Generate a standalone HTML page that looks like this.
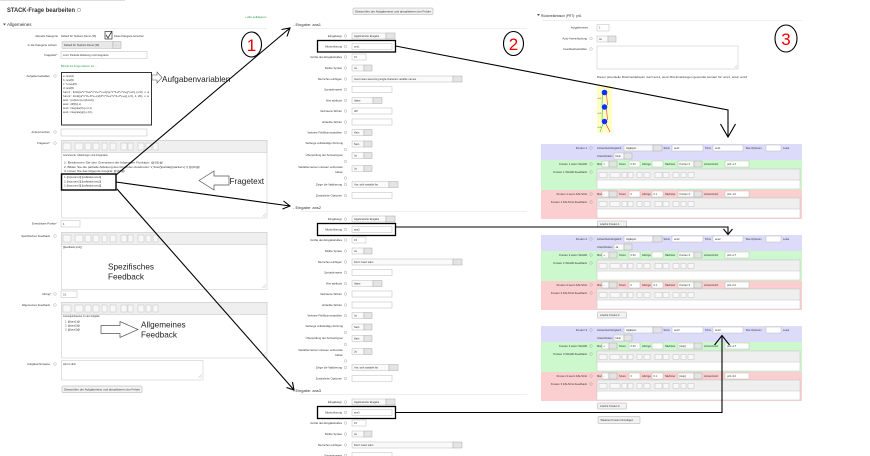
<!DOCTYPE html>
<html><head><meta charset="utf-8"><style>
html,body{margin:0;padding:0;background:#fff;}
svg{display:block;}
text{font-family:"Liberation Sans",sans-serif;}
.l{font-size:2.8px;fill:#333;text-anchor:end;}
.v{font-size:2.6px;fill:#333;}
.i{fill:#fff;stroke:#bbb;stroke-width:0.5;}
.s{fill:#fafafa;stroke:#bbb;stroke-width:0.5;}
.sb{fill:#e4e4e4;stroke:#aaa;stroke-width:0.5;}
.q{fill:none;stroke:#999;stroke-width:0.4;}
.big{font-size:8.2px;fill:#222;}
.num{font-size:17px;fill:#e00;text-anchor:middle;}
.ar{fill:none;stroke:#000;stroke-width:1.1;}
.ed{fill:#fff;stroke:#ccc;stroke-width:0.6;}
.tb{fill:#efefef;stroke:#ccc;stroke-width:0.6;}
.bt{fill:#f2f2f2;stroke:#aaa;stroke-width:0.5;}
.tbb rect{fill:#f8f8f8;stroke:#b5b5b5;stroke-width:0.4;}
</style></head><body>
<svg width="870" height="456" viewBox="0 0 870 456" xmlns="http://www.w3.org/2000/svg">
<rect width="870" height="456" fill="#fff"/>

<!-- ================= LEFT COLUMN ================= -->
<line x1="0" y1="0.5" x2="125" y2="0.5" stroke="#ddd" stroke-width="1"/>
<text x="7" y="12" font-size="6.5" font-weight="bold" fill="#333" textLength="68" lengthAdjust="spacingAndGlyphs">STACK-Frage bearbeiten</text>
<circle cx="79" cy="10" r="1.6" fill="none" stroke="#999" stroke-width="0.6"/>
<text x="245" y="18" font-size="2.8" fill="#2a9d4a">» Alle aufklappen</text>
<polygon points="3,23.5 6,23.5 4.5,25.5" fill="#555"/>
<text x="7" y="26" font-size="4.5" fill="#333">Allgemeines</text>
<line x1="10" y1="28.5" x2="267" y2="28.5" stroke="#ddd" stroke-width="0.6"/>

<text class="l" x="58" y="37">Aktuelle Kategorie</text>
<text class="v" x="61" y="37" font-size="2.7">Default für Testkurs Demo (36)</text>
<rect x="105" y="31.5" width="7" height="7.5" fill="#fff" stroke="#333" stroke-width="0.7"/>
<path d="M106 35 L108 38 L112 31" fill="none" stroke="#333" stroke-width="0.8"/>
<text class="v" x="114" y="37">Diese Kategorie benutzen</text>

<text class="l" x="57" y="46">In die Kategorie sichern</text>
<rect x="62" y="41.5" width="51" height="7" fill="#e8e8e8" stroke="#bbb" stroke-width="0.5"/>
<rect class="sb" x="113" y="41.5" width="8" height="7"/>
<text class="v" x="64" y="46">Default für Testkurs Demo (36)</text>
<text class="v" x="115" y="46">...</text>

<text class="l" x="56" y="56">Fragetitel</text><text x="56.3" y="56" font-size="2.8" fill="#d00">*</text>
<rect class="i" x="61" y="51.5" width="86" height="7"/>
<text class="v" x="63" y="56.2">Limit, Partielle Ableitung und Integration</text>

<text x="61" y="67" font-size="2.6" fill="#2a9d4a">Blende die Frage-Namen ein ...</text>

<text class="l" x="50" y="77">Aufgabenvariablen</text><circle class="q" cx="55" cy="76" r="1.3"/>
<rect x="61.5" y="72.5" width="90" height="52.5" fill="#fff" stroke="#333" stroke-width="1"/>
<g font-size="2.5" fill="#333">
<text x="63" y="77">a: rand(4)</text>
<text x="63" y="81">b: rand(5)</text>
<text x="63" y="85">c: 7+rand(5)</text>
<text x="63" y="89">d: rand(5)</text>
<text x="63" y="93" textLength="86" lengthAdjust="spacingAndGlyphs">func1 : limit((a*x^3+b*x^2+c*x+d)/(e*x^3+f*x^2+g*x+h),x,inf), x, a</text>
<text x="63" y="97" textLength="86" lengthAdjust="spacingAndGlyphs">func2 : limit((a*x^2+b*x+c)/(d*x^3+e*x^2+f*x+g),x,0), 1, 2b), x, a</text>
<text x="63" y="101">ans1 : [ev(func1),ev(func2)]</text>
<text x="63" y="105">ans2 : diff(f(x),x)</text>
<text x="63" y="109">ans3 : integrate(f(x),x,0,1)</text>
<text x="63" y="113">ans4 : integrate(g(x),x,0,1)</text>
</g>
<polygon points="152,75 157,75 157,72 162,77.5 157,83 157,80 152,80" fill="#fff" stroke="#555" stroke-width="0.6"/>
<text class="big" x="162" y="82" font-size="8">Aufgabenvariablen</text>

<text class="l" x="50" y="133">Antwortnotizen</text><circle class="q" cx="55" cy="132" r="1.3"/>
<rect class="i" x="61" y="129" width="86" height="7"/>

<text class="l" x="49" y="144">Fragetext</text><text x="49.3" y="144" font-size="2.8" fill="#d00">*</text><circle class="q" cx="55" cy="143" r="1.3"/>
<rect class="ed" x="61.5" y="140.5" width="205.5" height="77.5"/>
<rect class="tb" x="61.5" y="140.5" width="205.5" height="12"/>
<g class="tbb">
<rect x="63" y="143" width="8" height="7"/><rect x="75" y="143" width="8" height="7"/><rect x="85" y="143" width="6" height="7"/><rect x="93" y="143" width="6" height="7"/><rect x="102" y="143" width="5" height="7"/><rect x="110" y="143" width="6" height="7"/><rect x="121" y="143" width="6" height="7"/><rect x="128" y="143" width="5" height="7"/><rect x="138" y="143" width="6" height="7"/><rect x="146" y="143" width="5" height="7"/><rect x="153" y="143" width="5" height="7"/>
</g>
<g font-size="2.5" fill="#333">
<text x="63" y="156">Grenzwerte, Ableitungen und Integration</text>
<text x="64" y="163.5" textLength="99" lengthAdjust="spacingAndGlyphs">1. Bestimmen Sie den Grenzwert der folgenden Funktion: @{f1}@</text>
<text x="64" y="167.8" textLength="136" lengthAdjust="spacingAndGlyphs">2. Bilden Sie die partielle Ableitung des folgenden Ausdrucks: \( \frac{\partial}{\partial x} \) @{f2}@</text>
<text x="64" y="172" textLength="61" lengthAdjust="spacingAndGlyphs">3. Lösen Sie das folgende Integral: @{f3}@</text>
<text x="64" y="178">1. [[input:ans1]] [[validation:ans1]]</text>
<text x="64" y="182.3">2. [[input:ans2]] [[validation:ans2]]</text>
<text x="64" y="186.6">3. [[input:ans3]] [[validation:ans3]]</text>
</g>
<rect x="61.5" y="174" width="54.5" height="16" fill="none" stroke="#000" stroke-width="1.4"/>
<path d="M262 217 L266 213 M264 217 L266 215" stroke="#aaa" stroke-width="0.4"/>
<polygon points="199,180.5 214,171 214,176 229,176 229,185 214,185 214,190" fill="#fff" stroke="#555" stroke-width="0.7"/>
<text class="big" x="229.5" y="184" font-size="8">Fragetext</text>

<text class="l" x="56" y="224.5">Erreichbare Punkte</text><text x="56.3" y="224.5" font-size="2.8" fill="#d00">*</text>
<rect class="i" x="61" y="220.5" width="19" height="6.5"/>
<text class="v" x="63" y="224.8">1</text>

<text class="l" x="50" y="237">Spezifisches Feedback</text><circle class="q" cx="55" cy="236" r="1.3"/>
<rect class="ed" x="61.5" y="232.5" width="205.5" height="57"/>
<rect class="tb" x="61.5" y="232.5" width="205.5" height="12"/>
<g class="tbb">
<rect x="63" y="235" width="8" height="7"/><rect x="75" y="235" width="8" height="7"/><rect x="85" y="235" width="6" height="7"/><rect x="93" y="235" width="6" height="7"/><rect x="102" y="235" width="5" height="7"/><rect x="110" y="235" width="6" height="7"/><rect x="121" y="235" width="6" height="7"/><rect x="128" y="235" width="5" height="7"/><rect x="138" y="235" width="6" height="7"/><rect x="146" y="235" width="5" height="7"/><rect x="153" y="235" width="5" height="7"/>
</g>
<text class="v" x="63" y="248">[[feedback:prt1]]</text>
<path d="M262 288 L266 284 M264 288 L266 286" stroke="#aaa" stroke-width="0.4"/>
<text class="big" x="108" y="269.5">Spezifisches</text>
<text class="big" x="108" y="279.5">Feedback</text>

<text class="l" x="50" y="295">Abzug</text><text x="50.3" y="295" font-size="2.8" fill="#d00">*</text><circle class="q" cx="55" cy="294" r="1.3"/>
<rect class="i" x="61" y="291" width="16" height="6.5"/>
<text class="v" x="63" y="295.3">0.1</text>

<text class="l" x="50" y="306">Allgemeines Feedback</text><circle class="q" cx="55" cy="305" r="1.3"/>
<rect class="ed" x="61.5" y="302.5" width="205.5" height="55.5"/>
<rect class="tb" x="61.5" y="302.5" width="205.5" height="12"/>
<g class="tbb">
<rect x="63" y="305" width="8" height="7"/><rect x="75" y="305" width="8" height="7"/><rect x="85" y="305" width="6" height="7"/><rect x="93" y="305" width="6" height="7"/><rect x="102" y="305" width="5" height="7"/><rect x="110" y="305" width="6" height="7"/><rect x="121" y="305" width="6" height="7"/><rect x="128" y="305" width="5" height="7"/><rect x="138" y="305" width="6" height="7"/><rect x="146" y="305" width="5" height="7"/><rect x="153" y="305" width="5" height="7"/>
</g>
<g font-size="2.5" fill="#333">
<text x="63" y="317">Lösungshinweise zu der Aufgabe</text>
<text x="65" y="322.5">1. @{ans1}@</text>
<text x="65" y="326.5">2. @{ans2}@</text>
<text x="65" y="330.5">3. @{ans3}@</text>
</g>
<path d="M262 356 L266 352 M264 356 L266 354" stroke="#aaa" stroke-width="0.4"/>
<polygon points="101,325.5 120,325.5 120,321.5 138,329.5 120,337.5 120,333.5 101,333.5" fill="#fff" stroke="#555" stroke-width="0.7"/>
<text class="big" x="141" y="327.5">Allgemeines</text>
<text class="big" x="141" y="337.5">Feedback</text>

<text class="l" x="50" y="365">Aufgabenhinweise</text><circle class="q" cx="55" cy="364" r="1.3"/>
<rect class="ed" x="61.5" y="360.5" width="141.5" height="19.5"/>
<text class="v" x="63" y="365">Hint to dich</text>
<path d="M198 378 L202 374 M200 378 L202 376" stroke="#aaa" stroke-width="0.4"/>
<rect class="bt" x="62" y="386" width="80" height="6.5" rx="0.8"/>
<text x="64" y="390.5" font-size="2.5" fill="#333" textLength="76" lengthAdjust="spacingAndGlyphs">Überprüfen der Aufgabentext und aktualisieren der Felder</text>

<!-- ================= MIDDLE COLUMN ================= -->
<rect class="bt" x="353" y="8" width="80" height="6.5" rx="0.8"/>
<text x="355" y="12.5" font-size="2.5" fill="#333" textLength="76" lengthAdjust="spacingAndGlyphs">Überprüfen der Aufgabentext und aktualisieren der Felder</text>

<!-- ans1 -->
<text x="293" y="26" font-size="4" fill="#333">- Eingabe: ans1</text>
<line x1="300" y1="28.5" x2="527" y2="28.5" stroke="#ddd" stroke-width="0.6"/>
<text class="l" x="342" y="37">Eingabetyp</text><circle class="q" cx="345.5" cy="36" r="1.3"/>
<rect class="s" x="352" y="33" width="34" height="6"/><rect class="sb" x="386" y="33" width="9" height="6"/><text class="v" x="354" y="37">Algebraische Eingabe</text>
<text class="l" x="342" y="47.5">Musterlösung</text><circle class="q" cx="345.5" cy="46.5" r="1.3"/>
<rect class="i" x="352" y="43.5" width="40" height="6"/><text class="v" x="354" y="47.5">ans1</text>
<text class="l" x="342" y="58">Größe des Eingabefeldes</text><circle class="q" cx="345.5" cy="57" r="1.3"/>
<rect class="i" x="352" y="54" width="14" height="6"/><text class="v" x="354" y="58">15</text>
<text class="l" x="342" y="69">Strikte Syntax</text><circle class="q" cx="345.5" cy="68" r="1.3"/>
<rect class="s" x="352" y="65" width="12" height="6"/><rect class="sb" x="364" y="65" width="8" height="6"/><text class="v" x="354" y="69">Ja</text>
<text class="l" x="342" y="80">Sternchen einfügen</text><circle class="q" cx="345.5" cy="79" r="1.3"/>
<rect class="s" x="352" y="76" width="101" height="6"/><rect class="sb" x="453" y="76" width="9" height="6"/><text class="v" x="354" y="80">Insert stars assuming single-character variable names</text>
<text class="l" x="342" y="90.5">Syntaxhinweis</text><circle class="q" cx="345.5" cy="89.5" r="1.3"/>
<rect class="i" x="352" y="86.5" width="40" height="6"/>
<text class="l" x="342" y="101.5">Hint attribute</text><circle class="q" cx="345.5" cy="100.5" r="1.3"/>
<rect class="s" x="352" y="97.5" width="21" height="6"/><rect class="sb" x="373" y="97.5" width="9" height="6"/><text class="v" x="354" y="101.5">Value</text>
<text class="l" x="342" y="112">Verbotene Wörter</text><circle class="q" cx="345.5" cy="111" r="1.3"/>
<rect class="i" x="352" y="108" width="40" height="6"/><text class="v" x="354" y="112">diff</text>
<text class="l" x="342" y="123">Erlaubte Wörter</text><circle class="q" cx="345.5" cy="122" r="1.3"/>
<rect class="i" x="352" y="119" width="40" height="6"/>
<text class="l" x="342" y="133.5">Verbiete Fließkommazahlen</text><circle class="q" cx="345.5" cy="132.5" r="1.3"/>
<rect class="s" x="352" y="129.5" width="12" height="6"/><rect class="sb" x="364" y="129.5" width="8" height="6"/><text class="v" x="354" y="133.5">Nein</text>
<text class="l" x="343" y="144">Verlange vollständige Kürzung</text><circle class="q" cx="345.5" cy="149.5" r="1.3"/>
<rect class="s" x="352" y="141" width="12" height="6"/><rect class="sb" x="364" y="141" width="8" height="6"/><text class="v" x="354" y="145">Nein</text>
<text class="l" x="343" y="156">Überprüfung der Antworttypen</text><circle class="q" cx="345.5" cy="161.5" r="1.3"/>
<rect class="s" x="352" y="152.5" width="12" height="6"/><rect class="sb" x="364" y="152.5" width="8" height="6"/><text class="v" x="354" y="156.5">Ja</text>
<text class="l" x="343" y="168">Variablennamen müssen verbunden</text><text class="l" x="343" y="173">haben</text><circle class="q" cx="345.5" cy="178" r="1.3"/>
<rect class="s" x="352" y="165.5" width="12" height="6"/><rect class="sb" x="364" y="165.5" width="8" height="6"/><text class="v" x="354" y="169.5">Ja</text>
<text class="l" x="342" y="185.5">Zeige die Validierung</text><circle class="q" cx="345.5" cy="184.5" r="1.3"/>
<rect class="s" x="352" y="181.5" width="37" height="6"/><rect class="sb" x="389" y="181.5" width="9" height="6"/><text class="v" x="354" y="185.5">Yes, with variable list</text>
<text class="l" x="342" y="196.5">Zusätzliche Optionen</text><circle class="q" cx="345.5" cy="195.5" r="1.3"/>
<rect class="i" x="352" y="192.5" width="40" height="6"/>
<rect x="317.5" y="40.5" width="78" height="11.5" fill="none" stroke="#000" stroke-width="1.3"/>

<!-- ans2 -->
<text x="293" y="209" font-size="4" fill="#333">- Eingabe: ans2</text>
<line x1="300" y1="211.5" x2="527" y2="211.5" stroke="#ddd" stroke-width="0.6"/>
<text class="l" x="342" y="220">Eingabetyp</text><circle class="q" cx="345.5" cy="219" r="1.3"/>
<rect class="s" x="352" y="216" width="34" height="6"/><rect class="sb" x="386" y="216" width="9" height="6"/><text class="v" x="354" y="220">Algebraische Eingabe</text>
<text class="l" x="342" y="230.5">Musterlösung</text><circle class="q" cx="345.5" cy="229.5" r="1.3"/>
<rect class="i" x="352" y="226.5" width="40" height="6"/><text class="v" x="354" y="230.5">ans2</text>
<text class="l" x="342" y="241">Größe des Eingabefeldes</text><circle class="q" cx="345.5" cy="240" r="1.3"/>
<rect class="i" x="352" y="237" width="14" height="6"/><text class="v" x="354" y="241">15</text>
<text class="l" x="342" y="252">Strikte Syntax</text><circle class="q" cx="345.5" cy="251" r="1.3"/>
<rect class="s" x="352" y="248" width="12" height="6"/><rect class="sb" x="364" y="248" width="8" height="6"/><text class="v" x="354" y="252">Ja</text>
<text class="l" x="342" y="263">Sternchen einfügen</text><circle class="q" cx="345.5" cy="262" r="1.3"/>
<rect class="s" x="352" y="259" width="101" height="6"/><rect class="sb" x="453" y="259" width="9" height="6"/><text class="v" x="354" y="263">Don't insert stars</text>
<text class="l" x="342" y="273.5">Syntaxhinweis</text><circle class="q" cx="345.5" cy="272.5" r="1.3"/>
<rect class="i" x="352" y="269.5" width="40" height="6"/>
<text class="l" x="342" y="284.5">Hint attribute</text><circle class="q" cx="345.5" cy="283.5" r="1.3"/>
<rect class="s" x="352" y="280.5" width="21" height="6"/><rect class="sb" x="373" y="280.5" width="9" height="6"/><text class="v" x="354" y="284.5">Value</text>
<text class="l" x="342" y="295">Verbotene Wörter</text><circle class="q" cx="345.5" cy="294" r="1.3"/>
<rect class="i" x="352" y="291" width="40" height="6"/>
<text class="l" x="342" y="306">Erlaubte Wörter</text><circle class="q" cx="345.5" cy="305" r="1.3"/>
<rect class="i" x="352" y="302" width="40" height="6"/>
<text class="l" x="342" y="316.5">Verbiete Fließkommazahlen</text><circle class="q" cx="345.5" cy="315.5" r="1.3"/>
<rect class="s" x="352" y="312.5" width="12" height="6"/><rect class="sb" x="364" y="312.5" width="8" height="6"/><text class="v" x="354" y="316.5">Ja</text>
<text class="l" x="343" y="327">Verlange vollständige Kürzung</text><circle class="q" cx="345.5" cy="332.5" r="1.3"/>
<rect class="s" x="352" y="324" width="12" height="6"/><rect class="sb" x="364" y="324" width="8" height="6"/><text class="v" x="354" y="328">Nein</text>
<text class="l" x="343" y="339">Überprüfung der Antworttypen</text><circle class="q" cx="345.5" cy="344.5" r="1.3"/>
<rect class="s" x="352" y="335.5" width="12" height="6"/><rect class="sb" x="364" y="335.5" width="8" height="6"/><text class="v" x="354" y="339.5">Nein</text>
<text class="l" x="343" y="351">Variablennamen müssen verbunden</text><text class="l" x="343" y="356">haben</text><circle class="q" cx="345.5" cy="361" r="1.3"/>
<rect class="s" x="352" y="348.5" width="12" height="6"/><rect class="sb" x="364" y="348.5" width="8" height="6"/><text class="v" x="354" y="352.5">Ja</text>
<text class="l" x="342" y="368.5">Zeige die Validierung</text><circle class="q" cx="345.5" cy="367.5" r="1.3"/>
<rect class="s" x="352" y="364.5" width="37" height="6"/><rect class="sb" x="389" y="364.5" width="9" height="6"/><text class="v" x="354" y="368.5">Yes, with variable list</text>
<text class="l" x="342" y="379.5">Zusätzliche Optionen</text><circle class="q" cx="345.5" cy="378.5" r="1.3"/>
<rect class="i" x="352" y="375.5" width="40" height="6"/>
<rect x="317.5" y="223.5" width="78" height="12" fill="none" stroke="#000" stroke-width="1.3"/>

<!-- ans3 -->
<text x="293" y="392" font-size="4" fill="#333">- Eingabe: ans3</text>
<line x1="300" y1="394.5" x2="527" y2="394.5" stroke="#ddd" stroke-width="0.6"/>
<text class="l" x="342" y="403">Eingabetyp</text><circle class="q" cx="345.5" cy="402" r="1.3"/>
<rect class="s" x="352" y="399" width="34" height="6"/><rect class="sb" x="386" y="399" width="9" height="6"/><text class="v" x="354" y="403">Algebraische Eingabe</text>
<text class="l" x="342" y="413.5">Musterlösung</text><circle class="q" cx="345.5" cy="412.5" r="1.3"/>
<rect class="i" x="352" y="409.5" width="40" height="6"/><text class="v" x="354" y="413.5">ans3</text>
<text class="l" x="342" y="424">Größe des Eingabefeldes</text><circle class="q" cx="345.5" cy="423" r="1.3"/>
<rect class="i" x="352" y="420" width="14" height="6"/><text class="v" x="354" y="424">15</text>
<text class="l" x="342" y="435">Strikte Syntax</text><circle class="q" cx="345.5" cy="434" r="1.3"/>
<rect class="s" x="352" y="431" width="12" height="6"/><rect class="sb" x="364" y="431" width="8" height="6"/><text class="v" x="354" y="435">Ja</text>
<text class="l" x="342" y="446">Sternchen einfügen</text><circle class="q" cx="345.5" cy="445" r="1.3"/>
<rect class="s" x="352" y="442" width="101" height="6"/><rect class="sb" x="453" y="442" width="9" height="6"/><text class="v" x="354" y="446">Don't insert stars</text>
<text class="l" x="342" y="456.5">Syntaxhinweis</text><circle class="q" cx="345.5" cy="455.5" r="1.3"/>
<rect class="i" x="352" y="452.5" width="40" height="6"/>
<rect x="317.5" y="406.5" width="78" height="12" fill="none" stroke="#000" stroke-width="1.3"/>

<!-- ================= RIGHT COLUMN ================= -->
<polygon points="537,14 540,14 538.5,16" fill="#555"/>
<text x="541" y="17" font-size="3.2" fill="#333">Rückmeldebaum (PRT): prt1</text>
<line x1="542" y1="20.5" x2="802" y2="20.5" stroke="#ddd" stroke-width="0.6"/>
<text class="l" x="588" y="28.5">Aufgabenwert</text>
<rect class="i" x="597" y="24.5" width="12" height="6.5"/><text class="v" x="599" y="28.7" fill="#999">1</text>
<text class="l" x="587" y="39.5">Auto-Vereinfachung</text><circle class="q" cx="591" cy="38.5" r="1.3"/>
<rect class="s" x="597" y="36" width="11" height="6"/><rect class="sb" x="608" y="36" width="8" height="6"/><text class="v" x="599" y="40">Ja</text>
<text class="l" x="587" y="50">Feedbackvariablen</text><circle class="q" cx="591" cy="49" r="1.3"/>
<rect class="ed" x="597" y="46" width="141" height="23"/>
<path d="M734 68 L737 65 M736 68 L737 67" stroke="#aaa" stroke-width="0.4"/>
<text x="597" y="78" font-size="2.5" fill="#333" textLength="150" lengthAdjust="spacingAndGlyphs">Dieser potentielle Rückmeldebaum nutzt ans1, wenn Rückmeldungen gesendet werden für: ans1, ans2, ans3</text>

<rect x="597" y="85.5" width="15" height="47.5" fill="#ffffc4"/>
<g stroke-width="0.6">
<line x1="602.5" y1="94" x2="602" y2="105" stroke="#3c3"/>
<line x1="606.5" y1="94" x2="607.5" y2="105" stroke="#d33"/>
<line x1="602.5" y1="109" x2="602" y2="120" stroke="#3c3"/>
<line x1="606.5" y1="109" x2="607.5" y2="120" stroke="#d33"/>
<line x1="603" y1="124" x2="600" y2="132" stroke="#3c3"/>
<line x1="606" y1="124" x2="610" y2="132" stroke="#d33"/>
</g>
<circle cx="604.5" cy="92.5" r="2.8" fill="#1030ff"/>
<circle cx="604.5" cy="107" r="2.8" fill="#1030ff"/>
<circle cx="604.5" cy="121.5" r="2.8" fill="#1030ff"/>
<g font-size="1.5" fill="#333"><text x="597.5" y="99">=0.33</text><text x="597.5" y="114">=0.33</text><text x="597.5" y="128">=0.33</text></g>

<!-- Knoten 1 (T=144) -->
<rect x="541" y="144" width="261" height="16" fill="#dcdcfa"/>
<rect x="541" y="160" width="261" height="30" fill="#cdf7cd"/>
<rect x="541" y="190" width="261" height="29" fill="#fbcfcf"/>
<text class="l" x="587" y="149">Knoten 1</text><circle class="q" cx="591" cy="148" r="1.3"/>
<text class="v" x="597" y="149">Antworttest/Vergleich</text>
<rect class="s" x="624" y="145" width="29" height="6"/><rect class="sb" x="653" y="145" width="9" height="6"/><text class="v" x="626" y="149">AlgEquiv</text>
<text class="v" x="663.5" y="149">SAns</text><rect class="i" x="672" y="145" width="31" height="6"/><text class="v" x="674" y="149">ans1</text>
<text class="v" x="705" y="149">TAns</text><rect class="i" x="713" y="145" width="30" height="6"/><text class="v" x="715" y="149">ans1</text>
<text class="v" x="745.5" y="149">Test-Optionen</text><rect class="i" x="766" y="145" width="15" height="6"/>
<text class="v" x="783" y="149">Leise</text>
<text class="v" x="597" y="157">Unterdrücken</text>
<rect class="s" x="614" y="153" width="10" height="6"/><rect class="sb" x="624" y="153" width="8" height="6"/><text class="v" x="615.5" y="157">Nein</text>
<text class="l" x="587" y="165">Knoten 1 wenn WAHR</text><circle class="q" cx="591" cy="164" r="1.3"/>
<text class="v" x="597" y="165">Mod</text><rect class="s" x="602" y="161" width="7" height="6"/><rect class="sb" x="609" y="161" width="8" height="6"/><text class="v" x="603.5" y="165">=</text>
<text class="v" x="619" y="165">Score</text><rect class="i" x="629" y="161" width="11" height="6"/><text class="v" x="630.5" y="165">0.33</text>
<text class="v" x="642" y="165">Abzüge</text><rect class="i" x="652" y="161" width="11" height="6"/>
<text class="v" x="665" y="165">Nächster</text><rect class="s" x="678" y="161" width="16" height="6"/><rect class="sb" x="694" y="161" width="8" height="6"/><text class="v" x="679.5" y="165">Knoten 2</text>
<text class="v" x="704" y="165">Antwortnotiz</text><rect class="i" x="725" y="161" width="24" height="6"/><text class="v" x="727" y="165">prt1-1-T</text>
<text class="l" x="587" y="173">Knoten 1 WAHR-Feedback</text><circle class="q" cx="591" cy="172" r="1.3"/>
<rect class="ed" x="597" y="169" width="203" height="20"/><rect class="tb" x="597" y="169" width="203" height="11"/>
<g class="tbb"><rect x="599" y="172.5" width="8" height="5"/><rect x="610" y="172.5" width="10" height="5"/><rect x="622" y="172.5" width="5" height="5"/><rect x="628" y="172.5" width="5" height="5"/><rect x="637" y="172.5" width="5" height="5"/><rect x="644" y="172.5" width="6" height="5"/><rect x="655" y="172.5" width="7" height="5"/><rect x="663" y="172.5" width="6" height="5"/><rect x="673" y="172.5" width="6" height="5"/><rect x="681" y="172.5" width="5" height="5"/><rect x="688" y="172.5" width="6" height="5"/></g>
<text class="l" x="587" y="195">Knoten 1 wenn FALSCH</text><circle class="q" cx="591" cy="194" r="1.3"/>
<text class="v" x="597" y="195">Mod</text><rect class="s" x="602" y="191" width="7" height="6"/><rect class="sb" x="609" y="191" width="8" height="6"/><text class="v" x="603.5" y="195">-</text>
<text class="v" x="619" y="195">Score</text><rect class="i" x="629" y="191" width="11" height="6"/><text class="v" x="630.5" y="195">0</text>
<text class="v" x="642" y="195">Abzüge</text><rect class="i" x="652" y="191" width="11" height="6"/><text class="v" x="653.5" y="195">0.1</text>
<text class="v" x="665" y="195">Nächster</text><rect class="s" x="678" y="191" width="16" height="6"/><rect class="sb" x="694" y="191" width="8" height="6"/><text class="v" x="679.5" y="195">Knoten 2</text>
<text class="v" x="704" y="195">Antwortnotiz</text><rect class="i" x="725" y="191" width="24" height="6"/><text class="v" x="727" y="195">prt1-1-F</text>
<text class="l" x="587" y="203">Knoten 1 FALSCH-Feedback</text><circle class="q" cx="591" cy="202" r="1.3"/>
<rect class="ed" x="597" y="198" width="203" height="20"/><rect class="tb" x="597" y="198" width="203" height="11"/>
<g class="tbb"><rect x="599" y="201.5" width="8" height="5"/><rect x="610" y="201.5" width="10" height="5"/><rect x="622" y="201.5" width="5" height="5"/><rect x="628" y="201.5" width="5" height="5"/><rect x="637" y="201.5" width="5" height="5"/><rect x="644" y="201.5" width="6" height="5"/><rect x="655" y="201.5" width="7" height="5"/><rect x="663" y="201.5" width="6" height="5"/><rect x="673" y="201.5" width="6" height="5"/><rect x="681" y="201.5" width="5" height="5"/><rect x="688" y="201.5" width="6" height="5"/></g>
<rect class="bt" x="597.5" y="221" width="29" height="6" rx="0.6"/><text class="v" x="600" y="225">Lösche Knoten 1</text>

<!-- Knoten 2 (T=235) -->
<rect x="541" y="235" width="261" height="16" fill="#dcdcfa"/>
<rect x="541" y="251" width="261" height="30" fill="#cdf7cd"/>
<rect x="541" y="281" width="261" height="29" fill="#fbcfcf"/>
<text class="l" x="587" y="240">Knoten 2</text><circle class="q" cx="591" cy="239" r="1.3"/>
<text class="v" x="597" y="240">Antworttest/Vergleich</text>
<rect class="s" x="624" y="236" width="29" height="6"/><rect class="sb" x="653" y="236" width="9" height="6"/><text class="v" x="626" y="240">AlgEquiv</text>
<text class="v" x="663.5" y="240">SAns</text><rect class="i" x="672" y="236" width="31" height="6"/><text class="v" x="674" y="240">ans2</text>
<text class="v" x="705" y="240">TAns</text><rect class="i" x="713" y="236" width="30" height="6"/><text class="v" x="715" y="240">ans2</text>
<text class="v" x="745.5" y="240">Test-Optionen</text><rect class="i" x="766" y="236" width="15" height="6"/>
<text class="v" x="783" y="240">Leise</text>
<text class="v" x="597" y="248">Unterdrücken</text>
<rect class="s" x="614" y="244" width="10" height="6"/><rect class="sb" x="624" y="244" width="8" height="6"/><text class="v" x="615.5" y="248">Ja</text>
<text class="l" x="587" y="256">Knoten 2 wenn WAHR</text><circle class="q" cx="591" cy="255" r="1.3"/>
<text class="v" x="597" y="256">Mod</text><rect class="s" x="602" y="252" width="7" height="6"/><rect class="sb" x="609" y="252" width="8" height="6"/><text class="v" x="603.5" y="256">+</text>
<text class="v" x="619" y="256">Score</text><rect class="i" x="629" y="252" width="11" height="6"/><text class="v" x="630.5" y="256">0.33</text>
<text class="v" x="642" y="256">Abzüge</text><rect class="i" x="652" y="252" width="11" height="6"/>
<text class="v" x="665" y="256">Nächster</text><rect class="s" x="678" y="252" width="16" height="6"/><rect class="sb" x="694" y="252" width="8" height="6"/><text class="v" x="679.5" y="256">Knoten 3</text>
<text class="v" x="704" y="256">Antwortnotiz</text><rect class="i" x="725" y="252" width="24" height="6"/><text class="v" x="727" y="256">prt1-2-T</text>
<text class="l" x="587" y="264">Knoten 2 WAHR-Feedback</text><circle class="q" cx="591" cy="263" r="1.3"/>
<rect class="ed" x="597" y="260" width="203" height="20"/><rect class="tb" x="597" y="260" width="203" height="11"/>
<g class="tbb"><rect x="599" y="263.5" width="8" height="5"/><rect x="610" y="263.5" width="10" height="5"/><rect x="622" y="263.5" width="5" height="5"/><rect x="628" y="263.5" width="5" height="5"/><rect x="637" y="263.5" width="5" height="5"/><rect x="644" y="263.5" width="6" height="5"/><rect x="655" y="263.5" width="7" height="5"/><rect x="663" y="263.5" width="6" height="5"/><rect x="673" y="263.5" width="6" height="5"/><rect x="681" y="263.5" width="5" height="5"/><rect x="688" y="263.5" width="6" height="5"/></g>
<text class="l" x="587" y="286">Knoten 2 wenn FALSCH</text><circle class="q" cx="591" cy="285" r="1.3"/>
<text class="v" x="597" y="286">Mod</text><rect class="s" x="602" y="282" width="7" height="6"/><rect class="sb" x="609" y="282" width="8" height="6"/><text class="v" x="603.5" y="286">-</text>
<text class="v" x="619" y="286">Score</text><rect class="i" x="629" y="282" width="11" height="6"/><text class="v" x="630.5" y="286">0</text>
<text class="v" x="642" y="286">Abzüge</text><rect class="i" x="652" y="282" width="11" height="6"/><text class="v" x="653.5" y="286">0.1</text>
<text class="v" x="665" y="286">Nächster</text><rect class="s" x="678" y="282" width="16" height="6"/><rect class="sb" x="694" y="282" width="8" height="6"/><text class="v" x="679.5" y="286">Knoten 3</text>
<text class="v" x="704" y="286">Antwortnotiz</text><rect class="i" x="725" y="282" width="24" height="6"/><text class="v" x="727" y="286">prt1-2-F</text>
<text class="l" x="587" y="294">Knoten 2 FALSCH-Feedback</text><circle class="q" cx="591" cy="293" r="1.3"/>
<rect class="ed" x="597" y="289" width="203" height="20"/><rect class="tb" x="597" y="289" width="203" height="11"/>
<g class="tbb"><rect x="599" y="292.5" width="8" height="5"/><rect x="610" y="292.5" width="10" height="5"/><rect x="622" y="292.5" width="5" height="5"/><rect x="628" y="292.5" width="5" height="5"/><rect x="637" y="292.5" width="5" height="5"/><rect x="644" y="292.5" width="6" height="5"/><rect x="655" y="292.5" width="7" height="5"/><rect x="663" y="292.5" width="6" height="5"/><rect x="673" y="292.5" width="6" height="5"/><rect x="681" y="292.5" width="5" height="5"/><rect x="688" y="292.5" width="6" height="5"/></g>
<rect class="bt" x="597.5" y="312" width="29" height="6" rx="0.6"/><text class="v" x="600" y="316">Lösche Knoten 2</text>

<!-- Knoten 3 (T=326) -->
<rect x="541" y="326" width="261" height="16" fill="#dcdcfa"/>
<rect x="541" y="342" width="261" height="30" fill="#cdf7cd"/>
<rect x="541" y="372" width="261" height="29" fill="#fbcfcf"/>
<text class="l" x="587" y="331">Knoten 3</text><circle class="q" cx="591" cy="330" r="1.3"/>
<text class="v" x="597" y="331">Antworttest/Vergleich</text>
<rect class="s" x="624" y="327" width="29" height="6"/><rect class="sb" x="653" y="327" width="9" height="6"/><text class="v" x="626" y="331">AlgEquiv</text>
<text class="v" x="663.5" y="331">SAns</text><rect class="i" x="672" y="327" width="31" height="6"/><text class="v" x="674" y="331">ans3</text>
<text class="v" x="705" y="331">TAns</text><rect class="i" x="713" y="327" width="30" height="6"/><text class="v" x="715" y="331">ans3</text>
<text class="v" x="745.5" y="331">Test-Optionen</text><rect class="i" x="766" y="327" width="15" height="6"/>
<text class="v" x="783" y="331">Leise</text>
<text class="v" x="597" y="339">Unterdrücken</text>
<rect class="s" x="614" y="335" width="10" height="6"/><rect class="sb" x="624" y="335" width="8" height="6"/><text class="v" x="615.5" y="339">Nein</text>
<text class="l" x="587" y="347">Knoten 3 wenn WAHR</text><circle class="q" cx="591" cy="346" r="1.3"/>
<text class="v" x="597" y="347">Mod</text><rect class="s" x="602" y="343" width="7" height="6"/><rect class="sb" x="609" y="343" width="8" height="6"/><text class="v" x="603.5" y="347">+</text>
<text class="v" x="619" y="347">Score</text><rect class="i" x="629" y="343" width="11" height="6"/><text class="v" x="630.5" y="347">0.33</text>
<text class="v" x="642" y="347">Abzüge</text><rect class="i" x="652" y="343" width="11" height="6"/>
<text class="v" x="665" y="347">Nächster</text><rect class="s" x="678" y="343" width="16" height="6"/><rect class="sb" x="694" y="343" width="8" height="6"/><text class="v" x="679.5" y="347">[stop]</text>
<text class="v" x="704" y="347">Antwortnotiz</text><rect class="i" x="725" y="343" width="24" height="6"/><text class="v" x="727" y="347">prt1-3-T</text>
<text class="l" x="587" y="355">Knoten 3 WAHR-Feedback</text><circle class="q" cx="591" cy="354" r="1.3"/>
<rect class="ed" x="597" y="351" width="203" height="20"/><rect class="tb" x="597" y="351" width="203" height="11"/>
<g class="tbb"><rect x="599" y="354.5" width="8" height="5"/><rect x="610" y="354.5" width="10" height="5"/><rect x="622" y="354.5" width="5" height="5"/><rect x="628" y="354.5" width="5" height="5"/><rect x="637" y="354.5" width="5" height="5"/><rect x="644" y="354.5" width="6" height="5"/><rect x="655" y="354.5" width="7" height="5"/><rect x="663" y="354.5" width="6" height="5"/><rect x="673" y="354.5" width="6" height="5"/><rect x="681" y="354.5" width="5" height="5"/><rect x="688" y="354.5" width="6" height="5"/></g>
<text class="l" x="587" y="377">Knoten 3 wenn FALSCH</text><circle class="q" cx="591" cy="376" r="1.3"/>
<text class="v" x="597" y="377">Mod</text><rect class="s" x="602" y="373" width="7" height="6"/><rect class="sb" x="609" y="373" width="8" height="6"/><text class="v" x="603.5" y="377">-</text>
<text class="v" x="619" y="377">Score</text><rect class="i" x="629" y="373" width="11" height="6"/><text class="v" x="630.5" y="377">0</text>
<text class="v" x="642" y="377">Abzüge</text><rect class="i" x="652" y="373" width="11" height="6"/><text class="v" x="653.5" y="377">0.1</text>
<text class="v" x="665" y="377">Nächster</text><rect class="s" x="678" y="373" width="16" height="6"/><rect class="sb" x="694" y="373" width="8" height="6"/><text class="v" x="679.5" y="377">[stop]</text>
<text class="v" x="704" y="377">Antwortnotiz</text><rect class="i" x="725" y="373" width="24" height="6"/><text class="v" x="727" y="377">prt1-3-F</text>
<text class="l" x="587" y="385">Knoten 3 FALSCH-Feedback</text><circle class="q" cx="591" cy="384" r="1.3"/>
<rect class="ed" x="597" y="380" width="203" height="20"/><rect class="tb" x="597" y="380" width="203" height="11"/>
<g class="tbb"><rect x="599" y="383.5" width="8" height="5"/><rect x="610" y="383.5" width="10" height="5"/><rect x="622" y="383.5" width="5" height="5"/><rect x="628" y="383.5" width="5" height="5"/><rect x="637" y="383.5" width="5" height="5"/><rect x="644" y="383.5" width="6" height="5"/><rect x="655" y="383.5" width="7" height="5"/><rect x="663" y="383.5" width="6" height="5"/><rect x="673" y="383.5" width="6" height="5"/><rect x="681" y="383.5" width="5" height="5"/><rect x="688" y="383.5" width="6" height="5"/></g>
<rect class="bt" x="597.5" y="403" width="29" height="6" rx="0.6"/><text class="v" x="600" y="407">Lösche Knoten 3</text>
<rect class="bt" x="598" y="416.5" width="42" height="7" rx="0.6"/><text class="v" x="600.5" y="421">Weiteren Knoten hinzufügen</text>

<!-- ================= ANNOTATIONS ================= -->
<ellipse cx="251.5" cy="44.5" rx="10" ry="12.5" fill="none" stroke="#000" stroke-width="1.1"/>
<text class="num" x="251.5" y="51">1</text>
<ellipse cx="513.5" cy="43.5" rx="10" ry="12" fill="none" stroke="#000" stroke-width="1.1"/>
<text class="num" x="513.5" y="50">2</text>
<ellipse cx="786" cy="38.5" rx="11" ry="13.5" fill="none" stroke="#000" stroke-width="1.1"/>
<text class="num" x="786" y="45">3</text>

<!-- left arrows -->
<line class="ar" x1="116" y1="175" x2="290" y2="28"/>
<polyline class="ar" points="281.5,29.5 290,28 287,36.5"/>
<line class="ar" x1="116" y1="182" x2="290" y2="206"/>
<polyline class="ar" points="283.5,201 290,206 282.5,209"/>
<line class="ar" x1="117" y1="189" x2="294" y2="390"/>
<polyline class="ar" points="292.5,382 294,390 286.5,387.5"/>

<!-- right arrows -->
<polyline class="ar" points="395.5,46 728,110 728,137"/>
<polyline class="ar" points="720.5,124 728,137 735.5,124"/>
<polyline class="ar" stroke-width="1.5" points="395.5,227 728,227 728,234"/>
<polyline class="ar" stroke-width="1.4" points="723.5,229 728,234.5 732.5,229"/>
<polyline class="ar" stroke-width="1.4" points="395.5,412.5 722,412.5 722,336"/>
<polyline class="ar" stroke-width="1.4" points="714.5,345 722,335.5 729.5,345"/>
</svg>
</body></html>
